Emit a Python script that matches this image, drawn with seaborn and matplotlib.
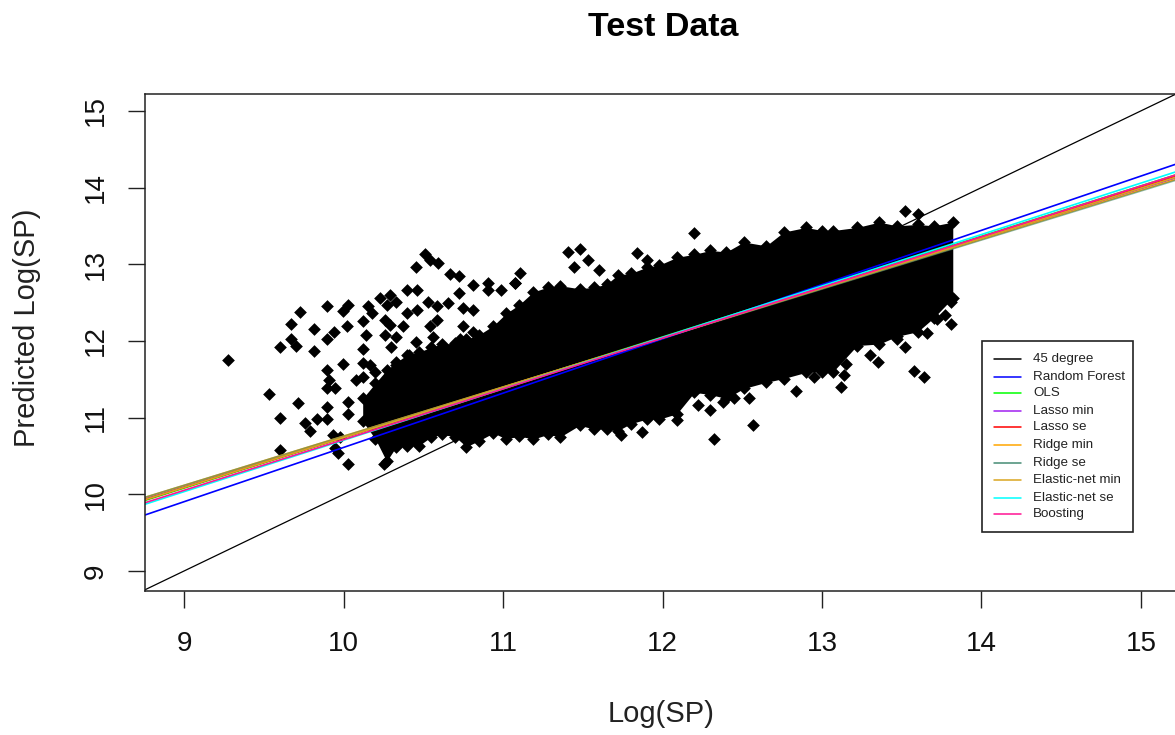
import matplotlib
matplotlib.use("Agg")
import matplotlib.pyplot as plt
import seaborn as sns
import pandas as pd
from matplotlib.patches import Rectangle
from matplotlib.lines import Line2D

# isolated points
point_x = [9.276, 9.535, 9.602, 9.669, 9.727, 9.669, 9.702, 9.602, 9.715, 9.602, 9.756, 9.79, 9.836, 9.894,
           9.894, 9.815, 9.815, 9.894, 9.94, 9.894, 9.995, 10.03, 10.02, 9.995, 9.894, 9.91, 9.894, 9.944,
           10.03, 10.03, 10.12, 10.14, 10.12, 10.12, 10.155, 10.176, 10.08, 10.12, 10.166, 10.197, 9.936,
           9.978, 9.947, 9.967, 10.03, 10.256, 10.229, 10.27, 10.26, 10.29, 10.26, 10.33, 10.30, 10.455,
           10.41, 10.29, 10.33, 10.396, 10.459, 10.455, 10.51, 10.54, 10.59, 10.67, 10.726, 10.81, 10.908,
           10.908, 11.075, 11.106, 10.99, 10.726, 10.657, 10.53, 10.459, 10.396, 10.584, 10.75, 10.81, 10.75,
           10.584, 10.54, 10.375, 10.81, 10.73, 10.56, 10.33, 11.075, 11.41, 11.48, 11.535, 11.445, 11.6,
           11.84, 11.90, 12.197, 13.52, 13.60, 13.81, 13.81, 13.72, 13.77, 13.58, 13.64, 13.30, 13.35, 13.12,
           12.84, 12.57, 12.32, 11.87, 11.74, 12.54, 12.45, 12.38, 12.30, 12.22, 12.09, 13.52, 13.47, 13.66,
           13.51, 12.95, 13.14, 13.15]
point_y = [11.75, 11.31, 11.92, 12.22, 12.38, 12.03, 11.93, 11.0, 11.19, 10.58, 10.93, 10.82, 10.98, 10.98,
           11.14, 12.15, 11.87, 12.03, 12.12, 12.45, 12.39, 12.47, 12.19, 11.70, 11.62, 11.49, 11.39, 11.39,
           11.21, 11.05, 12.26, 12.08, 11.89, 11.71, 12.455, 12.36, 11.49, 11.53, 11.69, 11.6, 10.77,
           10.75, 10.6, 10.54, 10.39, 10.39, 12.555, 12.47, 12.27, 12.21, 12.08, 12.05, 11.92, 11.99,
           11.82, 12.6, 12.51, 12.66, 12.66, 12.97, 13.13, 13.05, 13.01, 12.87, 12.85, 12.73, 12.75,
           12.66, 12.76, 12.89, 12.66, 12.62, 12.5, 12.51, 12.4, 12.36, 12.45, 12.43, 12.4, 12.19,
           12.27, 12.19, 12.19, 12.12, 12.03, 12.05, 11.69, 12.75, 13.16, 13.2, 13.06, 12.97, 12.92,
           13.15, 13.05, 13.41, 13.70, 13.66, 12.22, 12.51, 12.29, 12.34, 11.61, 11.53, 11.82, 11.72, 11.4,
           11.35, 10.9, 10.72, 10.81, 10.77, 11.25, 11.25, 11.21, 11.1, 11.17, 10.97, 11.92, 12.03, 12.1,
           12.19, 11.53, 11.55, 11.7]

# outline of the solid part of the cloud
cloud_x = [10.12, 10.2, 10.27, 10.33, 10.40, 10.47, 10.55, 10.62, 10.70, 10.77, 10.85, 10.94, 11.02, 11.10,
           11.19, 11.28, 11.36, 11.48, 11.57, 11.65, 11.72, 11.80, 11.90, 11.98, 12.09, 12.20, 12.30, 12.40,
           12.51, 12.65, 12.76, 12.90, 13.00, 13.07, 13.22, 13.36, 13.47, 13.60, 13.70, 13.82]
cloud_upper = [11.25, 11.45, 11.62, 11.72, 11.82, 11.85, 11.92, 11.96, 11.97, 12.02, 12.08, 12.20, 12.36, 12.47,
               12.64, 12.70, 12.72, 12.68, 12.70, 12.74, 12.86, 12.88, 12.96, 12.99, 13.09, 13.13, 13.18, 13.16,
               13.29, 13.24, 13.42, 13.48, 13.44, 13.44, 13.48, 13.55, 13.50, 13.52, 13.50, 13.55]
cloud_lower = [10.95, 10.72, 10.43, 10.62, 10.63, 10.63, 10.75, 10.78, 10.75, 10.62, 10.70, 10.80, 10.72, 10.76,
               10.72, 10.78, 10.75, 10.90, 10.85, 10.85, 10.83, 10.92, 10.98, 10.98, 11.05, 11.33, 11.30, 11.25,
               11.38, 11.46, 11.51, 11.59, 11.60, 11.60, 11.94, 11.96, 12.06, 12.12, 12.30, 12.56]

# fitted lines, y at the left and right edge of the plot
line_names = ["45 degree", "Random Forest", "OLS", "Lasso min", "Lasso se", "Ridge min", "Ridge se",
              "Elastic-net min", "Elastic-net se", "Boosting"]
line_colors = ["#000000", "#0000ff", "#00ff00", "#a020f0", "#ff0000", "#ffa500", "#458b74",
               "#daa520", "#00ffff", "#ff1493"]
line_left = [8.755, 9.73, 9.92, 9.94, 9.93, 9.96, 9.96, 9.93, 9.87, 9.89]
line_right = [15.226, 14.31, 14.17, 14.13, 14.15, 14.11, 14.10, 14.14, 14.21, 14.17]

x_ticks = [9, 10, 11, 12, 13, 14, 15]
y_ticks = [9, 10, 11, 12, 13, 14, 15]

sns.set_theme(style="white")
plt.rcParams["font.family"] = ["Liberation Sans", "DejaVu Sans"]

fig = plt.figure(figsize=(11.75, 7.35), dpi=100)
ax = fig.add_axes([145 / 1175, (735 - 591) / 735, (1177 - 145) / 1175, (591 - 94) / 735])

ax.fill_between(cloud_x, cloud_lower, cloud_upper, color="black", lw=0)
df_cloud = pd.DataFrame({"x": cloud_x * 2, "y": cloud_upper + cloud_lower})
sns.scatterplot(data=df_cloud, x="x", y="y", marker="D", s=42, color="black", linewidth=0, ax=ax)
df_points = pd.DataFrame({"x": point_x, "y": point_y})
sns.scatterplot(data=df_points, x="x", y="y", marker="D", s=42, color="black", linewidth=0, ax=ax)

for i in range(len(line_names)):
    # Ridge se is see-through, over the orange it gives the brownish top line
    alpha = 0.6 if line_names[i] == "Ridge se" else 1
    lw = 0.9 if i == 0 else 1.2
    sns.lineplot(x=[8.755, 15.226], y=[line_left[i], line_right[i]], color=line_colors[i], lw=lw,
                 alpha=alpha, errorbar=None, ax=ax)

ax.set_xlim(8.755, 15.226)
ax.set_ylim(8.739, 15.22)
ax.set_xticks(x_ticks)
ax.set_yticks(y_ticks)
ax.tick_params(axis="x", length=12, width=1, color="#222222", pad=17, labelsize=20, bottom=True, labelcolor="#111111")
ax.tick_params(axis="y", length=12, width=1, color="#222222", pad=14, labelsize=20, left=True, labelcolor="#111111")
plt.setp(ax.get_yticklabels(), rotation=90, va="center")
for spine in ax.spines.values():
    spine.set_color("#222222")
    spine.set_linewidth(1.1)

ax.set_xlabel("Log(SP)", fontsize=21, color="#222222", labelpad=31)
ax.set_ylabel("Predicted Log(SP)", fontsize=21, color="#222222")
ax.yaxis.set_label_coords(-0.101, 0.53)
fig.text(663 / 1175, 1 - 28 / 735, "Test Data", fontsize=24.5, fontweight="bold", color="black",
         ha="center", va="center")


# legend box, drawn by hand in pixels so it sits where the original does
def fx(p):
    return p / 1175


def fy(p):
    return 1 - p / 735


fig.add_artist(Rectangle((fx(982), fy(531.5)), 151 / 1175, 190.5 / 735, transform=fig.transFigure,
                         facecolor="white", edgecolor="#222222", lw=1.2, zorder=5))
row_y = [359.3, 377.3, 393.3, 411, 427.3, 445.3, 463.3, 479.7, 497.7, 513.7]
for i in range(len(line_names)):
    fig.add_artist(Line2D([fx(994), fx(1021)], [fy(row_y[i]), fy(row_y[i])], color=line_colors[i], lw=1.1,
                          transform=fig.transFigure, zorder=6))
    fig.text(fx(1033), fy(row_y[i]), line_names[i], fontsize=9.6, color="#222222", va="center", ha="left", zorder=6)

fig.savefig("out.png", dpi=100)
